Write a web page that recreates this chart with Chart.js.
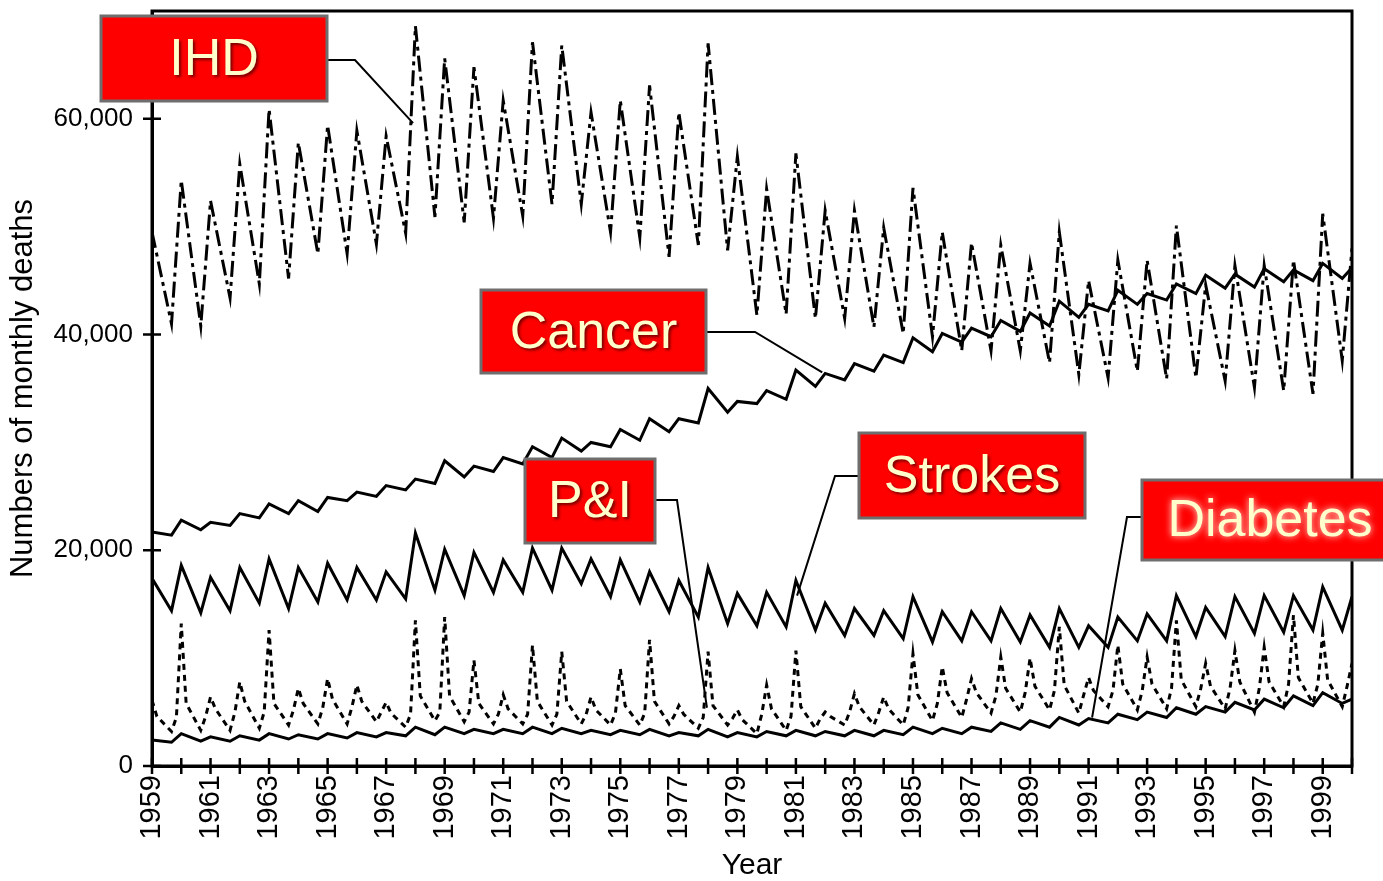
<!DOCTYPE html>
<html>
<head>
<meta charset="utf-8">
<script src="https://cdn.jsdelivr.net/npm/chart.js@4.4.0/dist/chart.umd.min.js"></script>
<style>
  html, body { margin: 0; padding: 0; background: #fff; }
</style>
</head>
<body>
<canvas id="deaths" width="1383" height="881"></canvas>
<script>
// Monthly US deaths by cause, 1959-2000.
// Each series keeps its January (winter) value and its September (summer) value per year;
// the January lists carry one extra entry for January 2000.
const years = [1959, 1960, 1961, 1962, 1963, 1964, 1965, 1966, 1967, 1968,
  1969, 1970, 1971, 1972, 1973, 1974, 1975, 1976, 1977, 1978,
  1979, 1980, 1981, 1982, 1983, 1984, 1985, 1986, 1987, 1988,
  1989, 1990, 1991, 1992, 1993, 1994, 1995, 1996, 1997, 1998, 1999, 2000];

const ihdJan = [49500, 54300, 52400, 55800, 60900, 57800, 59400, 58900, 58400, 68600,
  65600, 64800, 61700, 67100, 66800, 60600, 61700, 63100, 60600, 67000,
  56500, 53500, 56800, 51500, 51500, 49900, 53600, 49500, 48500, 48300,
  46600, 49500, 45000, 46900, 46900, 50100, 44600, 46400, 46400, 46900, 51200, 48000];
const ihdSep = [41000, 40800, 43400, 44700, 45200, 47500, 47500, 48400, 49400, 50900,
  50400, 50800, 51000, 52100, 52100, 49500, 49000, 47200, 48300, 47800,
  41800, 41900, 41500, 41500, 40700, 40100, 39800, 38500, 38500, 38500,
  37400, 36300, 36000, 36600, 35900, 36000, 35700, 35100, 34800, 34500, 37600];

const cancerJan = [21700, 22800, 22600, 23400, 24300, 24600, 24900, 25400, 26000, 26600,
  28300, 27800, 28600, 29600, 30400, 30000, 31200, 32200, 32200, 35000,
  33800, 34800, 36700, 36400, 37300, 38100, 39700, 40100, 40600, 41300,
  42000, 43100, 42800, 44100, 43800, 44700, 45500, 45600, 46100, 46000, 46600, 46200];
const cancerSep = [21400, 21900, 22300, 23000, 23400, 23600, 24600, 25000, 25600, 26200,
  26800, 27300, 28000, 28600, 29200, 29600, 30200, 31000, 31800, 32800,
  33600, 34000, 35200, 35800, 36600, 37400, 38400, 39300, 39800, 40300,
  40800, 41600, 42200, 42800, 43200, 43800, 44300, 44400, 44900, 45000, 45200];

const strokeJan = [17400, 18600, 17500, 18400, 19200, 18400, 18800, 18400, 18000, 21600,
  20100, 19800, 19100, 20200, 20200, 19200, 19100, 18000, 17200, 18400,
  16000, 16100, 17200, 15100, 14600, 14400, 15700, 14300, 14300, 14600,
  14000, 14600, 13000, 13800, 14100, 15800, 14700, 15700, 15800, 15800, 16600, 15700];
const strokeSep = [14400, 14200, 14400, 15100, 14600, 15200, 15400, 15400, 15500, 16300,
  15800, 16100, 16100, 16300, 16900, 15700, 15200, 14300, 13800, 13200,
  13000, 12900, 12600, 12100, 12100, 11800, 11500, 11600, 11600, 11500,
  11000, 11000, 11000, 11600, 11600, 12000, 12000, 12300, 12400, 12600, 12600];

// pneumonia & influenza also keeps the November before and the March after each winter peak,
// so the epidemic spikes stay narrow
const pniJan = [6100, 13200, 6400, 7800, 12600, 7200, 8100, 7500, 5900, 13500,
  13800, 9800, 6600, 11200, 10600, 6400, 9000, 11700, 5600, 10600,
  5200, 7500, 10700, 5000, 6700, 6400, 10400, 9200, 8100, 10100,
  10000, 12900, 8200, 11200, 10100, 13500, 9500, 10700, 11000, 14000, 12300, 9500];
const pniNov = [null, 4500, 4600, 5000, 5000, 5200, 5400, 5500, 5000, 4800,
  5000, 5000, 4800, 4800, 4800, 4800, 4900, 4900, 4600, 4500,
  4400, 4800, 4600, 4400, 5000, 5000, 5400, 5800, 6200, 6500,
  6800, 7000, 6600, 7000, 7000, 7200, 7200, 7200, 7200, 7600, 7600, 7400];
const pniMar = [4600, 5800, 5300, 6000, 5800, 5800, 6200, 6000, 4900, 6500,
  6500, 5800, 5300, 6000, 6000, 5200, 5600, 6000, 4800, 5600,
  4300, 5300, 5500, 4600, 5500, 5300, 6600, 6800, 6800, 7200,
  7400, 7500, 7000, 7600, 7600, 8000, 7400, 7800, 7800, 8200, 8000];
const pniSep = [3200, 3300, 3300, 3500, 3800, 3900, 3900, 4100, 3600, 4200,
  4100, 3900, 3900, 3800, 3900, 3800, 3800, 3900, 3500, 3800,
  3000, 3300, 3500, 3800, 3800, 3800, 4200, 4500, 4900, 5000,
  5200, 4900, 5500, 5200, 5300, 5500, 5300, 5000, 5500, 5800, 5500];

const diabetesJan = [2400, 3000, 2700, 2800, 3000, 2900, 3000, 3100, 3100, 3600,
  3600, 3400, 3400, 3600, 3500, 3300, 3300, 3400, 3100, 3400,
  3100, 3200, 3300, 3200, 3300, 3300, 3600, 3500, 3600, 4000,
  4200, 4500, 4400, 4800, 5000, 5400, 5500, 5900, 6200, 6500, 6800, 6200];
const diabetesSep = [2200, 2300, 2300, 2400, 2500, 2500, 2600, 2700, 2800, 2900,
  3000, 3000, 3000, 3000, 3000, 2900, 2900, 2800, 2800, 2700,
  2700, 2800, 2800, 2800, 2800, 2900, 3000, 3000, 3200, 3400,
  3600, 3800, 4000, 4300, 4500, 4800, 5000, 5200, 5400, 5600, 5800];

const yTicks = [0, 20000, 40000, 60000];

// month offsets inside a year: November before, January, March, September
function seasonal(jan, sep, nov, mar) {
  const pts = [];
  years.forEach((yr, i) => {
    if (nov && nov[i] != null) pts.push({ x: yr - 2 / 12, y: nov[i] });
    pts.push({ x: yr, y: jan[i] });
    if (mar && mar[i] != null) pts.push({ x: yr + 2 / 12, y: mar[i] });
    if (sep[i] !== undefined) pts.push({ x: yr + 8 / 12, y: sep[i] });
  });
  return pts;
}

const FONT = '"Liberation Sans", Arial, Helvetica, sans-serif';

const labels = [
  { text: 'IHD', box: [101, 16, 226, 85], path: [[327, 60], [355, 60]], end: [1967.92, 59600] },
  { text: 'Cancer', box: [481, 290, 225, 83], path: [[706, 332], [755, 332]], end: [1981.9, 36500] },
  { text: 'P&I', box: [525, 459, 130, 84], path: [[655, 500], [677, 500]], end: [1977.96, 5400] },
  { text: 'Strokes', box: [859, 433, 226, 85], path: [[859, 476], [835, 476]], end: [1981.04, 15800] },
  { text: 'Diabetes', box: [1142, 480, 246, 80], path: [[1142, 517], [1127, 517]], end: [1991.12, 4500], glow: true },
];

const frameAndLabels = {
  id: 'frameAndLabels',
  afterDraw(chart) {
    const { ctx, chartArea: a, scales: { x, y } } = chart;
    ctx.save();
    ctx.strokeStyle = '#000';
    ctx.lineWidth = 3;
    ctx.strokeRect(a.left, a.top, a.right - a.left, a.bottom - a.top);

    // tick marks crossing both axes
    ctx.lineWidth = 2.5;
    ctx.beginPath();
    x.ticks.forEach(t => {
      const px = x.getPixelForValue(t.value);
      ctx.moveTo(px, a.bottom - 8);
      ctx.lineTo(px, a.bottom + 8);
    });
    y.ticks.forEach(t => {
      const py = y.getPixelForValue(t.value);
      ctx.moveTo(a.left - 9, py);
      ctx.lineTo(a.left + 9, py);
    });
    ctx.stroke();

    labels.forEach(l => {
      ctx.lineWidth = 2;
      ctx.strokeStyle = '#000';
      ctx.beginPath();
      ctx.moveTo(l.path[0][0], l.path[0][1]);
      ctx.lineTo(l.path[1][0], l.path[1][1]);
      ctx.lineTo(x.getPixelForValue(l.end[0]), y.getPixelForValue(l.end[1]));
      ctx.stroke();

      const [bx, by, bw, bh] = l.box;
      ctx.fillStyle = '#ff0000';
      ctx.fillRect(bx, by, bw, bh);
      ctx.lineWidth = 3;
      ctx.strokeStyle = '#6e6e6e';
      ctx.strokeRect(bx, by, bw, bh);

      ctx.save();
      ctx.font = '52px ' + FONT;
      ctx.textAlign = 'center';
      ctx.textBaseline = 'middle';
      if (l.glow) {
        ctx.shadowColor = 'rgba(255,255,235,0.95)';
        ctx.shadowBlur = 7;
      } else {
        ctx.shadowColor = 'rgba(60,0,0,0.7)';
        ctx.shadowBlur = 3;
        ctx.shadowOffsetX = 2;
        ctx.shadowOffsetY = 2;
      }
      ctx.fillStyle = '#ffffcc';
      const cx = l.glow ? bx + 128 : bx + bw / 2;
      ctx.fillText(l.text, cx, by + bh / 2 + 2);
      ctx.restore();
    });
    ctx.restore();
  }
};

const line = (label, data, dash) => ({
  label, data,
  borderColor: '#000',
  borderWidth: 3,
  borderDash: dash,
  pointRadius: 0,
  tension: 0,
  fill: false,
});

new Chart(document.getElementById('deaths'), {
  type: 'line',
  data: {
    datasets: [
      line('IHD', seasonal(ihdJan, ihdSep), [16, 5, 4, 5]),
      line('Cancer', seasonal(cancerJan, cancerSep), []),
      line('Strokes', seasonal(strokeJan, strokeSep), []),
      line('P&I', seasonal(pniJan, pniSep, pniNov, pniMar), [6, 5]),
      line('Diabetes', seasonal(diabetesJan, diabetesSep), []),
    ]
  },
  options: {
    responsive: false,
    animation: false,
    devicePixelRatio: 1,
    layout: { padding: { top: 11, right: 31, left: 0, bottom: 0 } },
    plugins: { legend: { display: false }, tooltip: { enabled: false } },
    scales: {
      x: {
        type: 'linear',
        min: 1959,
        max: 2000,
        afterFit(s) {
          s.height = 115;
          s.paddingLeft = 0;
          s.paddingRight = 0;
        },
        grid: { drawOnChartArea: false, drawTicks: false },
        border: { color: '#000', width: 3 },
        ticks: {
          stepSize: 1,
          autoSkip: false,
          minRotation: 90,
          maxRotation: 90,
          padding: 9,
          color: '#000',
          font: { family: FONT, size: 29 },
          callback: v => (v % 2 === 1 ? String(v) : '')
        },
        title: { display: true, text: 'Year', color: '#000', padding: 0, font: { family: FONT, size: 30, lineHeight: 1 } }
      },
      y: {
        min: 0,
        max: 70000,
        afterFit(s) {
          s.width = 152;
          s.paddingTop = 0;
          s.paddingBottom = 0;
        },
        afterBuildTicks(s) { s.ticks = yTicks.map(v => ({ value: v })); },
        grid: { drawOnChartArea: false, drawTicks: false },
        border: { color: '#000', width: 3 },
        ticks: {
          padding: 19,
          color: '#000',
          font: { family: FONT, size: 26 },
          callback: v => v.toLocaleString('en-US')
        },
        title: { display: true, text: 'Numbers of monthly deaths', color: '#000', padding: { top: 8 }, font: { family: FONT, size: 31, lineHeight: 1 } }
      }
    }
  },
  plugins: [frameAndLabels]
});
</script>
</body>
</html>
